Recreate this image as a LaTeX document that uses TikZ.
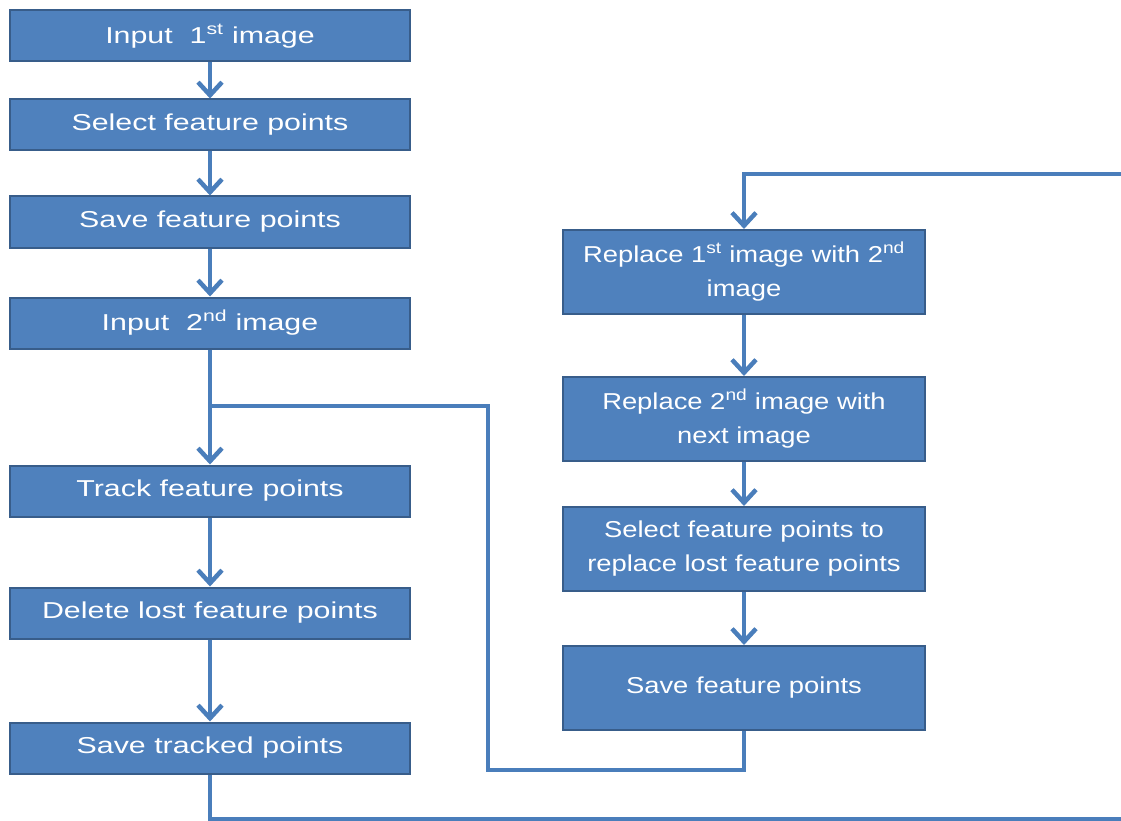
\documentclass[tikz,border=0pt]{standalone}
\usepackage{fontspec}
\setmainfont{Liberation Sans}[FakeStretch=1.32]
\newfontfamily\narrowfont{Liberation Sans}[FakeStretch=1.19]
\usepackage{tikz}
\usetikzlibrary{arrows.meta}
\usetikzlibrary{positioning}
\usepackage{xcolor}
\definecolor{boxfill}{HTML}{4F81BD}
\definecolor{boxedge}{HTML}{385D8A}
\definecolor{flowline}{HTML}{4A7EBB}

\begin{document}
\begin{tikzpicture}[x=1pt, y=-1pt, >={Straight Barb[length=13pt, width=24pt]},
  every box/.style={draw=boxedge, line width=2pt, fill=boxfill, text=white, inner sep=0pt,
    align=center, font=\fontsize{23}{34}\selectfont},
  left box/.style={every box, minimum width=400pt, minimum height=51pt},
  right box/.style={every box, minimum width=362pt, minimum height=84pt,
    font=\narrowfont\fontsize{23}{34}\selectfont},
  flow/.style={draw=flowline, line width=4.5pt}]

\useasboundingbox (0,0) rectangle (1121,821);
\clip (0,0) rectangle (1121,821);

% Left column boxes
\foreach \m/\t/\y in {1/{Input\ \ 1\textsuperscript{st} image}/36, 2/{Select feature points}/125,
    3/{Save feature points}/222, 4/{Input\ \ 2\textsuperscript{nd} image}/323,
    5/{Track feature points}/491, 6/{Delete lost feature points}/613, 7/{Save tracked points}/748}
  \node [left box] (left-\m) at (210,\y) {\t};

% Right column boxes
\foreach \m/\t/\y in {1/{Replace 1\textsuperscript{st} image with\ 2\textsuperscript{nd}\\image}/272,
    2/{Replace 2\textsuperscript{nd} image with\\next\ image}/419,
    3/{Select feature points to\\replace lost feature points}/549, 4/{Save feature points}/688}
  \node [right box] (right-\m) at (744,\y) {\t};

% Corner points of the connectors
\coordinate (split) at (210,406);
\coordinate (branch-a) at (488,406);
\coordinate (branch-b) at (488,770);
\coordinate (loop-a) at (210,819);
\coordinate (loop-b) at (1124,819);
\coordinate (loop-c) at (1124,174);
\coordinate (loop-d) at (744,174);

% Left column connections
\foreach \i [evaluate=\i as \j using int(\i+1)] in {1,...,6}
  \draw [flow, ->] (left-\i) -- (left-\j);

% Right column connections
\foreach \i [evaluate=\i as \j using int(\i+1)] in {1,...,3}
  \draw [flow, ->] (right-\i) -- (right-\j);

% Branch and loop back
\draw [flow] (split) -- (branch-a) -- (branch-b) -| (right-4.south);
\draw [flow, ->] (left-7.south) -- (loop-a) -- (loop-b) -- (loop-c) -- (loop-d) -- (right-1.north);

\end{tikzpicture}
\end{document}
